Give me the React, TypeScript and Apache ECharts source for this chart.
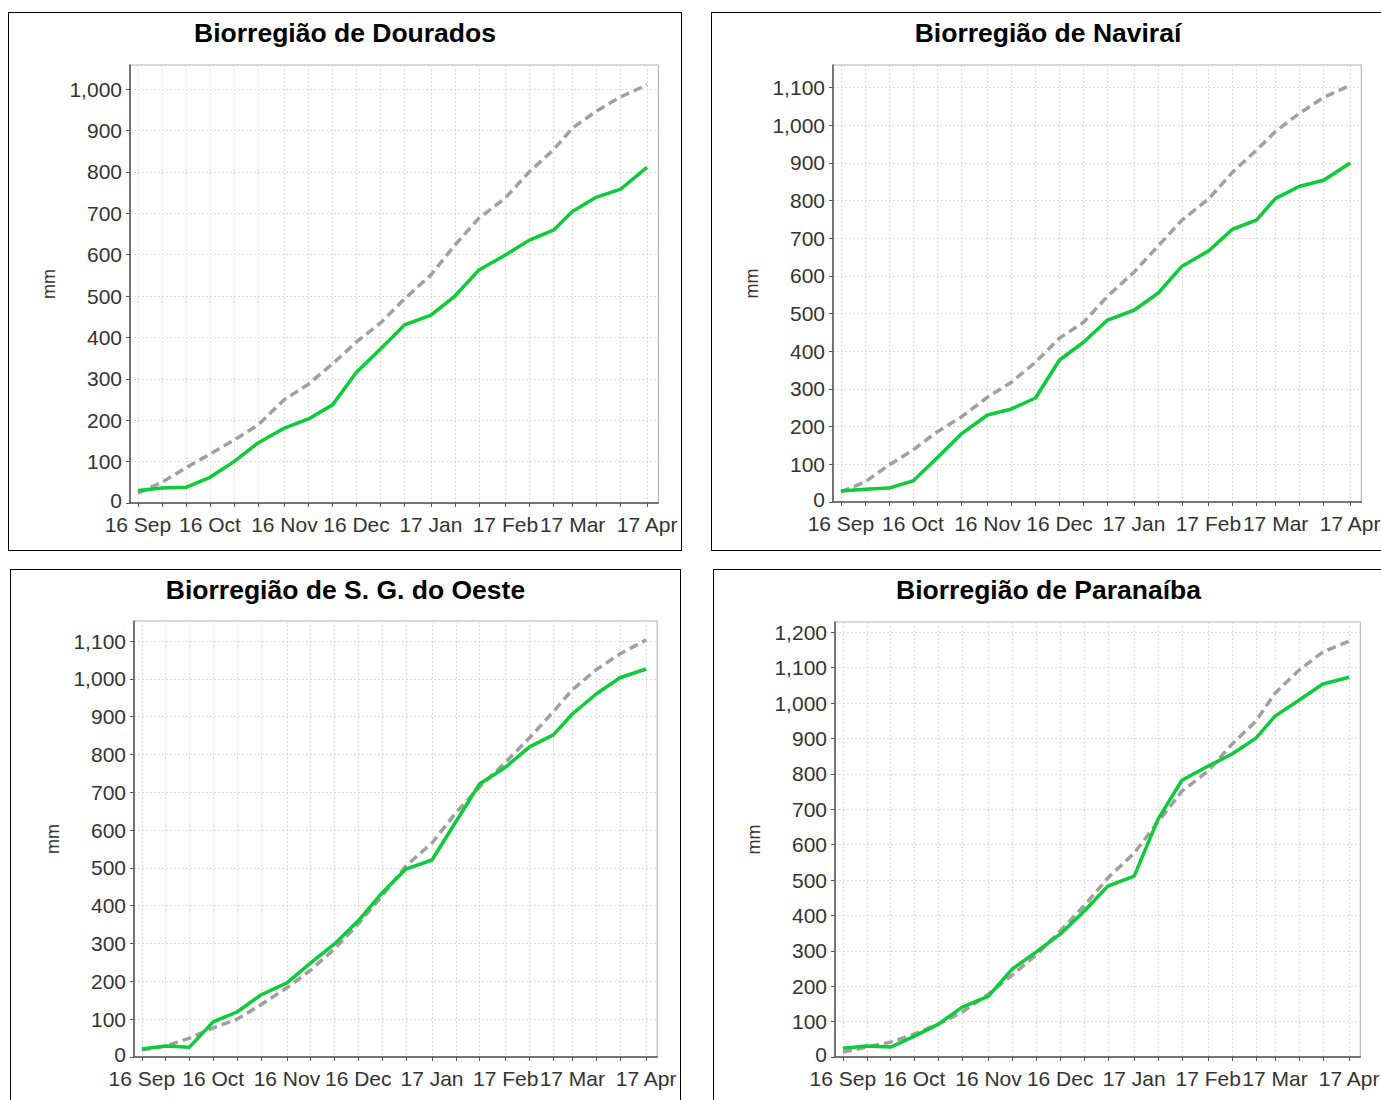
import React, { useEffect, useRef } from "react";
import * as echarts from "echarts";

// Dekad positions (days since 2016-09-01) and month labels
const dekadDays = [0, 10, 20, 30, 40, 50, 61, 71, 81, 91, 101, 111, 122, 132, 142, 153, 163, 173, 181, 191, 201, 212];
const monthLabelDays = [0, 30, 61, 91, 122, 153, 181, 212];
const monthLabels = ["16 Sep", "16 Oct", "16 Nov", "16 Dec", "17 Jan", "17 Feb", "17 Mar", "17 Apr"];

const titles = [
  "Biorregião de Dourados",
  "Biorregião de Naviraí",
  "Biorregião de S. G. do Oeste",
  "Biorregião de Paranaíba",
];

// Accumulated rainfall (mm) - observed (green) and normal (grey dashed)
const douradosObs = [30, 36, 38, 62, 100, 145, 181, 203, 237, 316, 372, 430, 454, 500, 563, 599, 635, 659, 705, 739, 758, 811];
const douradosNorm = [24, 50, 85, 118, 152, 188, 250, 287, 336, 389, 435, 493, 551, 623, 688, 737, 800, 853, 906, 947, 981, 1010];

const naviraiObs = [29, 34, 37, 56, 117, 180, 231, 247, 276, 377, 424, 483, 509, 554, 626, 666, 724, 748, 806, 838, 854, 900];
const naviraiNorm = [27, 53, 98, 138, 186, 225, 278, 318, 371, 435, 477, 546, 610, 679, 748, 804, 875, 934, 984, 1032, 1074, 1106];

const sgOesteObs = [21, 29, 26, 93, 119, 164, 196, 249, 299, 360, 434, 497, 521, 622, 722, 767, 820, 852, 907, 960, 1003, 1026];
const sgOesteNorm = [19, 29, 50, 77, 100, 138, 183, 230, 286, 352, 426, 505, 566, 646, 714, 780, 844, 913, 971, 1024, 1066, 1103];

const paranaibaObs = [25, 31, 28, 59, 93, 141, 172, 249, 297, 347, 412, 483, 511, 672, 782, 822, 856, 901, 963, 1008, 1054, 1073];
const paranaibaNorm = [14, 28, 42, 65, 93, 127, 178, 232, 288, 356, 427, 506, 576, 664, 751, 808, 884, 949, 1028, 1093, 1144, 1175];

const yMaxes = [1058, 1160, 1153, 1229];

const observed = [douradosObs, naviraiObs, sgOesteObs, paranaibaObs];
const normal = [douradosNorm, naviraiNorm, sgOesteNorm, paranaibaNorm];

const FONT = "'Liberation Sans', Arial, sans-serif";

const layouts = [
  { left: 8, top: 12, w: 674, h: 539, grid: { left: 121, top: 52, width: 530, height: 438 } },
  { left: 711, top: 12, w: 674, h: 539, grid: { left: 121, top: 52, width: 530, height: 437 } },
  { left: 10, top: 569, w: 671, h: 539, grid: { left: 123, top: 51, width: 525, height: 436 } },
  { left: 713, top: 569, w: 671, h: 539, grid: { left: 121, top: 52, width: 528, height: 435 } },
];

function buildOption(i: number) {
  const lay = layouts[i];
  const toPts = (arr: number[]) => dekadDays.map((d, k) => [d, arr[k]]);
  return {
    animation: false,
    title: {
      text: titles[i],
      left: "center",
      top: 1,
      textStyle: { fontFamily: FONT, fontSize: 26.5, fontWeight: "bold", color: "#000" },
    },
    grid: {
      ...lay.grid,
      show: true,
      borderColor: "#aaa",
      borderWidth: 1,
      backgroundColor: "transparent",
    },
    xAxis: {
      type: "value",
      min: -3.3,
      max: 216.7,
      axisLine: { show: true, onZero: false, lineStyle: { color: "#555", width: 1.5 } },
      axisTick: { show: true, customValues: dekadDays, length: 4, lineStyle: { color: "#555" } },
      axisLabel: {
        customValues: monthLabelDays,
        formatter: (v: number) => {
          const k = monthLabelDays.indexOf(v);
          return k >= 0 ? monthLabels[k] : "";
        },
        fontFamily: FONT,
        fontSize: 21,
        lineHeight: 18,
        color: "#333",
        margin: 12,
      },
      splitLine: { show: true, lineStyle: { color: "#dcdcdc", type: [2, 2], width: 1 } },
    },
    yAxis: {
      type: "value",
      min: 0,
      max: yMaxes[i],
      interval: 100,
      name: "mm",
      nameLocation: "middle",
      nameGap: 72,
      nameTextStyle: { fontFamily: FONT, fontSize: 18, color: "#333" },
      axisLine: { show: true, onZero: false, lineStyle: { color: "#555", width: 1.5 } },
      axisTick: { show: true, length: 4, lineStyle: { color: "#555" } },
      axisLabel: {
        fontFamily: FONT,
        fontSize: 21,
        lineHeight: 16,
        color: "#333",
        margin: 8,
        showMaxLabel: false,
        formatter: (v: number) => (v === 0 ? "{z|0}" : v.toLocaleString("en-US")),
        rich: {
          z: { fontFamily: FONT, fontSize: 21, lineHeight: 16, color: "#333", padding: [0, 0, 6, 0] },
        },
      },
      splitLine: { show: true, lineStyle: { color: "#dcdcdc", type: [2, 2], width: 1 } },
    },
    series: [
      {
        name: "Normal",
        type: "line",
        data: toPts(normal[i]),
        symbol: "none",
        lineStyle: { color: "#a0a0a0", width: 3.5, type: [9, 5] },
        z: 2,
      },
      {
        name: "Observado",
        type: "line",
        data: toPts(observed[i]),
        symbol: "none",
        lineStyle: { color: "#0ccc38", width: 3.5 },
        z: 3,
      },
    ],
  };
}

function Panel({ index }: { index: number }) {
  const ref = useRef<HTMLDivElement>(null);
  const lay = layouts[index];
  useEffect(() => {
    const chart = echarts.init(ref.current!, null, { renderer: "svg" });
    chart.setOption(buildOption(index) as any);
    return () => chart.dispose();
  }, [index]);
  return (
    <div
      style={{
        position: "absolute",
        left: lay.left,
        top: lay.top,
        width: lay.w,
        height: lay.h,
        border: "1px solid #000",
        boxSizing: "border-box",
        overflow: "hidden",
        background: "#fff",
      }}
    >
      <div ref={ref} style={{ width: lay.w - 2, height: lay.h - 2 }} />
    </div>
  );
}

export default function App() {
  return (
    <div
      style={{
        position: "absolute",
        left: 0,
        top: 0,
        width: 1381,
        height: 1100,
        overflow: "hidden",
        background: "#fff",
      }}
    >
      {[0, 1, 2, 3].map((i) => (
        <Panel key={i} index={i} />
      ))}
    </div>
  );
}
